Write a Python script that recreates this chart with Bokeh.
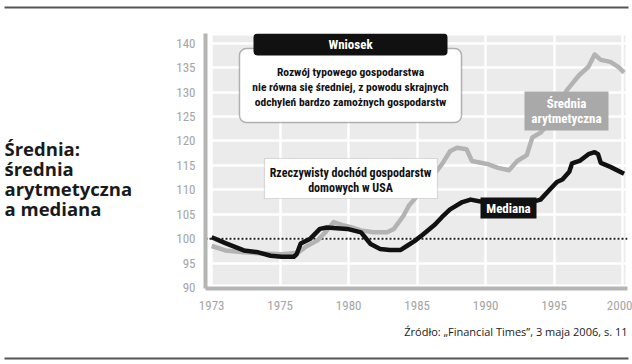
from bokeh.plotting import figure
from bokeh.models import BoxAnnotation, Label, Span, Range1d, FixedTicker
from bokeh.layouts import column, row
from bokeh.core.properties import value
from bokeh.embed import file_html
from bokeh.resources import INLINE

# ---- data ----
years_median = [1970.0, 1971.0, 1972.35, 1973.4, 1974.3, 1975.1, 1976.0, 1976.2, 1976.5, 1977.2,
                1977.9, 1978.4, 1979.9, 1980.9, 1981.6, 1982.3, 1983.0, 1983.8, 1984.3, 1984.8,
                1985.4, 1986.3, 1986.8, 1987.4, 1988.3, 1988.9, 1990.0, 1991.0, 1992.0, 1993.0,
                1993.6, 1994.0, 1994.7, 1995.2, 1995.6, 1996.1, 1996.3, 1996.9, 1997.5, 1997.95,
                1998.2, 1998.4, 1999.1, 2000.1]
median = [100.3, 99.1, 97.6, 97.2, 96.5, 96.3, 96.3, 96.8, 99.0, 100.0,
          102.0, 102.3, 102.0, 101.3, 98.9, 97.9, 97.7, 97.7, 98.6, 99.5,
          100.8, 102.9, 104.4, 106.0, 107.5, 108.0, 107.4, 106.8, 106.6, 107.2,
          107.7, 108.0, 110.1, 111.6, 112.1, 113.7, 115.4, 116.0, 117.3, 117.7,
          117.3, 115.5, 114.7, 113.3]

years_mean = [1970.0, 1971.0, 1972.35, 1974.3, 1975.1, 1976.3, 1976.9, 1977.7, 1978.3, 1978.9,
              1979.5, 1980.1, 1980.9, 1981.8, 1982.8, 1983.3, 1984.0, 1984.4, 1984.9, 1985.6,
              1986.4, 1986.8, 1987.4, 1987.9, 1988.6, 1989.0, 1990.1, 1990.9, 1991.7, 1992.3,
              1993.0, 1993.4, 1994.0, 1994.7, 1995.3, 1995.9, 1996.8, 1997.5, 1997.95, 1998.4,
              1999.1, 1999.7, 2000.1]
mean = [98.5, 97.6, 97.2, 96.9, 96.8, 97.1, 98.4, 99.6, 101.3, 103.4,
        102.8, 102.4, 101.7, 101.3, 101.3, 102.0, 104.7, 106.8, 108.4, 111.0,
        113.8, 115.2, 117.9, 118.6, 118.3, 115.9, 115.3, 114.5, 114.0, 115.9,
        117.1, 120.7, 121.7, 124.0, 127.0, 130.3, 133.4, 135.2, 137.7, 136.6,
        136.2, 135.1, 134.0]

x_ticks = [1970, 1975, 1980, 1985, 1990, 1995, 2000]
x_tick_labels = ["1973", "1975", "1980", "1985", "1990", "1995", "2000"]
y_ticks = [90, 95, 100, 105, 110, 115, 120, 125, 130, 135, 140]
baseline = 100

title_lines = ["Średnia:", "średnia", "arytmetyczna", "a mediana"]
box_title = "Wniosek"
box_lines = ["Rozwój typowego gospodarstwa",
             "nie równa się średniej, z powodu skrajnych",
             "odchyleń bardzo zamożnych gospodarstw"]
note_lines = ["Rzeczywisty dochód gospodarstw", "domowych w USA"]
median_label = "Mediana"
mean_label_lines = ["Średnia", "arytmetyczna"]
source = "Źródło: „Financial Times”, 3 maja 2006, s. 11"

# ---- layout (page pixels; the page starts at 0,0) ----
TOTAL_W = 632
TOP_H = 10
ROW_T = TOP_H
LEFT_W = 173
MAIN_L = LEFT_W
MAIN_W = TOTAL_W - LEFT_W
MAIN_H = 304
BOT_T = ROW_T + MAIN_H
BOT_H = 364 - BOT_T

FRAME_L, FRAME_R, FRAME_T, FRAME_B = 205, 627, 33, 288
x0, x1 = 1969.55, 2000.35
y0, y1 = 89.8, 142.0

NARROW = "Roboto Condensed"
SANS = "Open Sans"


def X(px):
    return x0 + (px - FRAME_L) / (FRAME_R - FRAME_L) * (x1 - x0)


def Y(py):
    return y1 - (py - FRAME_T) / (FRAME_B - FRAME_T) * (y1 - y0)


def blank_fig(w, h, left, top):
    f = figure(width=w, height=h, x_range=Range1d(left, left + w), y_range=Range1d(top + h, top),
               output_backend="svg", toolbar_location=None, x_axis_type=None, y_axis_type=None,
               min_border=0)
    f.outline_line_color = None
    f.grid.visible = False
    return f


# top rule
top_fig = blank_fig(TOTAL_W, TOP_H, 0, 0)
top_fig.segment(x0=[4], y0=[5], x1=[628], y1=[5], line_color="#555555", line_width=2)

# left title
left_fig = blank_fig(LEFT_W, MAIN_H, 0, ROW_T)
left_fig.text(x=[4] * len(title_lines), y=[147 + 24 * i for i in range(len(title_lines))],
              text=title_lines, text_font=value(SANS), text_font_style="bold",
              text_font_size="18.5px", text_color="#1a1a1a", text_align="left",
              text_baseline="middle")

# main chart
p = figure(width=MAIN_W, height=MAIN_H, x_range=Range1d(x0, x1), y_range=Range1d(y0, y1),
           output_backend="svg", toolbar_location=None,
           min_border_left=FRAME_L - MAIN_L, min_border_right=MAIN_L + MAIN_W - FRAME_R,
           min_border_top=FRAME_T - ROW_T, min_border_bottom=ROW_T + MAIN_H - FRAME_B)
p.outline_line_color = None
p.background_fill_color = "white"
p.border_fill_color = "white"

p.add_layout(BoxAnnotation(left=1970, right=X(625), bottom=Y(284), top=Y(35),
                           fill_color="#ebebeb", fill_alpha=1, line_color=None, level="image"))

p.xgrid.ticker = FixedTicker(ticks=x_ticks)
p.ygrid.ticker = FixedTicker(ticks=y_ticks)
for g in (p.xgrid, p.ygrid):
    g.grid_line_color = "white"
    g.grid_line_width = 2.5

p.xaxis.ticker = FixedTicker(ticks=x_ticks)
p.xaxis.major_label_overrides = {t: l for t, l in zip(x_ticks, x_tick_labels)}
p.yaxis.ticker = FixedTicker(ticks=y_ticks)
for ax in (p.xaxis, p.yaxis):
    ax.axis_line_color = "#b5b5b5"
    ax.axis_line_width = 4
    ax.major_tick_line_color = None
    ax.minor_tick_line_color = None
    ax.major_label_text_color = "#a5a5a5"
    ax.major_label_text_font = NARROW
    ax.major_label_text_font_size = "13px"
p.xaxis.major_label_standoff = 6
p.yaxis.major_label_standoff = 4

p.add_layout(Span(location=baseline, dimension="width", line_color="#222222",
                  line_dash="2 2", line_width=2, level="underlay"))

p.line(years_mean, mean, line_color="#b3b3b3", line_width=4.5, line_join="round")
p.line(years_median, median, line_color="#111111", line_width=4.5, line_join="round")

# callout
p.add_layout(BoxAnnotation(left=X(239), right=X(461), top=Y(48), bottom=Y(122),
                           fill_color="white", fill_alpha=1, line_color="#111111",
                           line_width=1.5, border_radius=7))
p.add_layout(BoxAnnotation(left=X(253), right=X(447), top=Y(33), bottom=Y(55),
                           fill_color="#111111", fill_alpha=1, line_color=None, border_radius=4))
p.add_layout(Label(x=X(350), y=Y(44), text=box_title, text_font=NARROW, text_font_style="bold",
                   text_font_size="13px", text_color="white", text_align="center",
                   text_baseline="middle"))
for i, t in enumerate(box_lines):
    p.add_layout(Label(x=X(350), y=Y(71 + 15 * i), text=t, text_font=NARROW,
                       text_font_style="bold", text_font_size="11.5px", text_color="#111111",
                       text_align="center", text_baseline="middle"))

p.add_layout(BoxAnnotation(left=X(264), right=X(437), top=Y(158), bottom=Y(198),
                           fill_color="white", fill_alpha=1, line_color="#333333",
                           line_width=1.2, line_dash="1 1"))
for i, t in enumerate(note_lines):
    p.add_layout(Label(x=X(350), y=Y(172 + 15 * i), text=t, text_font=NARROW,
                       text_font_style="bold", text_font_size="12px", text_color="#111111",
                       text_align="center", text_baseline="middle"))

p.add_layout(BoxAnnotation(left=X(480), right=X(536), top=Y(197), bottom=Y(218),
                           fill_color="#111111", fill_alpha=1, line_color=None))
p.add_layout(Label(x=X(508), y=Y(208), text=median_label, text_font=NARROW,
                   text_font_style="bold", text_font_size="13px", text_color="white",
                   text_align="center", text_baseline="middle"))
p.add_layout(BoxAnnotation(left=X(524), right=X(608), top=Y(91), bottom=Y(130),
                           fill_color="#a9a9a9", fill_alpha=1, line_color=None))
for i, t in enumerate(mean_label_lines):
    p.add_layout(Label(x=X(566), y=Y(103 + 15 * i), text=t, text_font=NARROW,
                       text_font_style="bold", text_font_size="13px", text_color="white",
                       text_align="center", text_baseline="middle"))

# bottom: source and rule
bot_fig = blank_fig(TOTAL_W, BOT_H, 0, BOT_T)
bot_fig.text(x=[627], y=[331], text=[source], text_font=value(SANS), text_font_size="11px",
             text_color="#1a1a1a", text_align="right", text_baseline="middle")
bot_fig.segment(x0=[4], y0=[358], x1=[628], y1=[358], line_color="#555555", line_width=2)

layout = column(top_fig, row(left_fig, p), bot_fig)
open("out.html", "w").write(file_html(layout, INLINE))
